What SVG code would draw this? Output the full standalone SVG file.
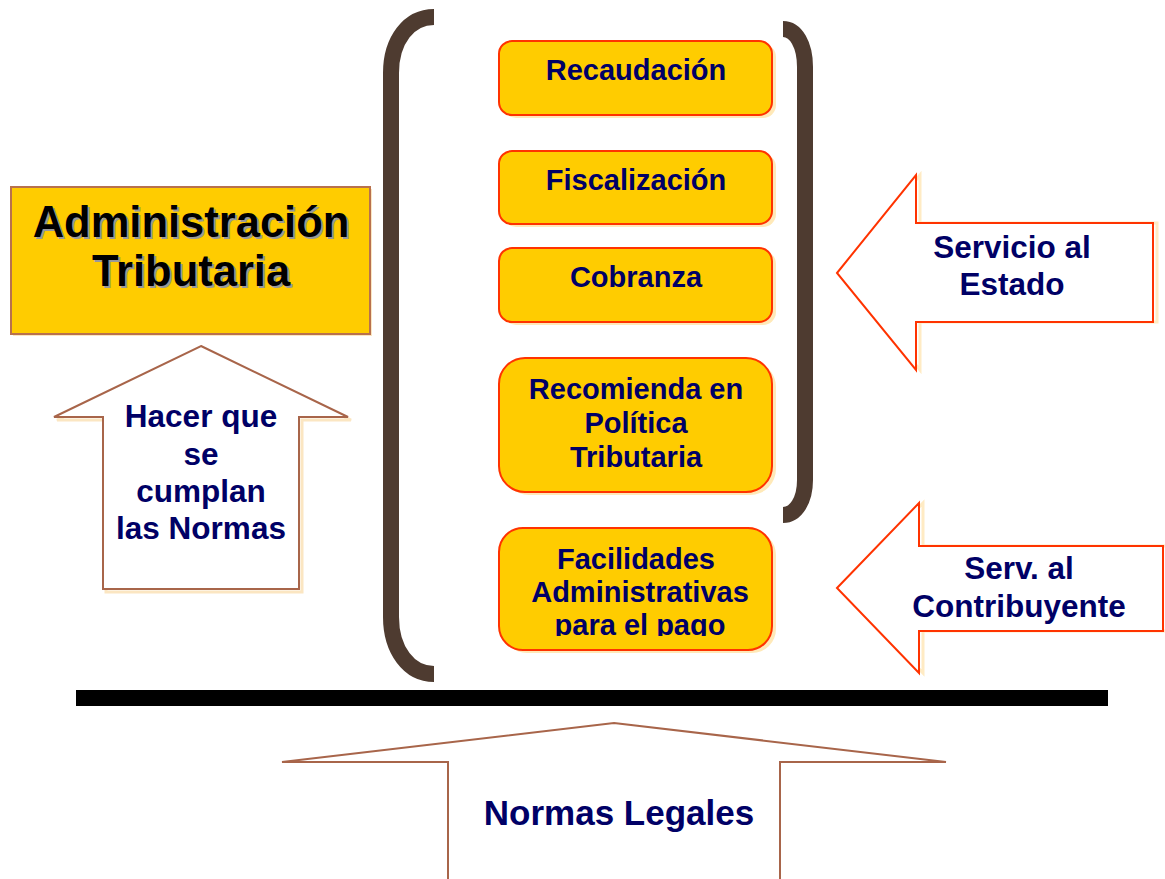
<svg xmlns="http://www.w3.org/2000/svg" width="1165" height="879" viewBox="0 0 1165 879">
<style>
  .t { font-family: "Liberation Sans", Arial, sans-serif; font-weight: bold; text-anchor: middle; fill: #000066; }
  .bt { font-size: 29px; }
  .at { font-size: 31.5px; }
  .box { fill: #FFCC00; stroke: #FF3300; stroke-width: 2; }
  .boxsh { fill: #FFE9B8; }
  .brown { fill: #FFFFFF; stroke: #A8654A; stroke-width: 2; stroke-linejoin: miter; }
  .brownsh { fill: none; stroke: #FBE6C2; stroke-width: 3; }
  .red { fill: #FFFFFF; stroke: #FF3300; stroke-width: 2; }
  .redsh { fill: none; stroke: #FFEBC4; stroke-width: 3; }
  .brk { fill: none; stroke: #4E3B30; stroke-width: 16; }
</style>
<defs>
  <clipPath id="clipFac"><rect x="499" y="528" width="274" height="108"/></clipPath>
</defs>
<rect width="1165" height="879" fill="#FFFFFF"/>

<g id="brackets">
  <path class="brk" d="M434,17 C409,17 391,40 391,73 L391,617 C391,650 409,674 434,674"/>
  <path class="brk" d="M783,29 C796,29 805,45 805,67 L805,480 C805,500 796,515 783,515"/>
</g>

<g id="admin">
  <rect x="13" y="189" width="359" height="147" fill="#FBE6C2"/>
  <rect x="11" y="187" width="359" height="147" fill="#FFCC00" stroke="#B8714D" stroke-width="2"/>
  <g font-family="'Liberation Sans', Arial, sans-serif" font-weight="bold" font-size="43.5" text-anchor="middle">
    <text x="193" y="239" fill="#999999">Administración</text>
    <text x="193" y="288" fill="#999999">Tributaria</text>
    <text x="191" y="237" fill="#000000">Administración</text>
    <text x="191" y="286" fill="#000000">Tributaria</text>
  </g>
</g>

<g id="hacer">
  <polygon class="brownsh" points="204,349 351,420 302,420 302,592 106,592 106,420 57,420"/>
  <polygon class="brown" points="201,346 348,417 299,417 299,589 103,589 103,417 54,417"/>
  <text class="t at" x="201" y="427">Hacer que</text>
  <text class="t at" x="201" y="465">se</text>
  <text class="t at" x="201" y="502">cumplan</text>
  <text class="t at" x="201" y="539">las Normas</text>
</g>

<g id="recaudacion">
  <rect class="boxsh" x="503" y="44" width="273" height="74" rx="13"/>
  <rect class="box" x="499" y="41" width="273" height="74" rx="13"/>
  <text class="t bt" x="636" y="80">Recaudación</text>
</g>

<g id="fiscalizacion">
  <rect class="boxsh" x="503" y="154" width="273" height="73" rx="13"/>
  <rect class="box" x="499" y="151" width="273" height="73" rx="13"/>
  <text class="t bt" x="636" y="190">Fiscalización</text>
</g>

<g id="cobranza">
  <rect class="boxsh" x="503" y="251" width="273" height="74" rx="13"/>
  <rect class="box" x="499" y="248" width="273" height="74" rx="13"/>
  <text class="t bt" x="636" y="287">Cobranza</text>
</g>

<g id="recomienda">
  <rect class="boxsh" x="503" y="361" width="273" height="134" rx="26"/>
  <rect class="box" x="499" y="358" width="273" height="134" rx="26"/>
  <text class="t bt" x="636" y="399">Recomienda en</text>
  <text class="t bt" x="636" y="433">Política</text>
  <text class="t bt" x="636" y="467">Tributaria</text>
</g>

<g id="facilidades">
  <rect class="boxsh" x="503" y="531" width="273" height="122" rx="24"/>
  <rect class="box" x="499" y="528" width="273" height="122" rx="24"/>
  <g clip-path="url(#clipFac)">
    <text class="t bt" x="636" y="569">Facilidades</text>
    <text class="t bt" x="640" y="602">Administrativas</text>
    <text class="t bt" x="640" y="635">para el pago</text>
  </g>
</g>

<g id="servicio-estado">
  <polygon class="redsh" points="841,273 920,175 920,223 1157,223 1157,322 920,322 920,370"/>
  <polygon class="red" points="837,273 916,175 916,223 1153,223 1153,322 916,322 916,370"/>
  <text class="t at" x="1012" y="258">Servicio al</text>
  <text class="t at" x="1012" y="295">Estado</text>
</g>

<g id="servicio-contribuyente">
  <polygon class="redsh" points="841,588 923,503 923,546 1167,546 1167,631 923,631 923,673"/>
  <polygon class="red" points="837,588 919,503 919,546 1163,546 1163,631 919,631 919,673"/>
  <text class="t at" x="1019" y="579">Serv. al</text>
  <text class="t at" x="1019" y="617">Contribuyente</text>
</g>

<g id="base">
  <rect x="76" y="690" width="1032" height="16" fill="#000000"/>
</g>

<g id="normas">
  <polygon class="brown" points="614,723 946,762 780,762 780,882 448,882 448,762 282,762"/>
  <text class="t" x="619" y="825" font-size="35">Normas Legales</text>
</g>
</svg>
